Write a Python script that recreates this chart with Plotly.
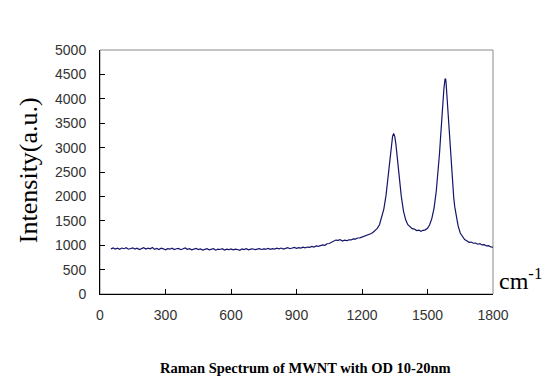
import plotly.graph_objects as go

# Raman shift (cm^-1)
wavenumber = [
    50, 60, 70, 80, 90, 100, 110, 120, 130, 140, 150, 160, 170, 180, 190, 200,
    210, 220, 230, 240, 250, 260, 270, 280, 290, 300, 310, 320, 330, 340, 350,
    360, 370, 380, 390, 400, 410, 420, 430, 440, 450, 460, 470, 480, 490, 500,
    510, 520, 530, 540, 550, 560, 570, 580, 590, 600, 610, 620, 630, 640, 650,
    660, 670, 680, 690, 700, 710, 720, 730, 740, 750, 760, 770, 780, 790, 800,
    810, 820, 830, 840, 850, 860, 870, 880, 890, 900, 910, 920, 930, 940, 950,
    960, 970, 980, 990, 1000, 1010, 1020, 1030, 1040, 1050, 1060, 1070, 1080,
    1090, 1100, 1110, 1120, 1130, 1140, 1150, 1160, 1170, 1180, 1190, 1200,
    1210, 1220, 1230, 1240, 1250, 1260, 1270, 1280, 1290, 1300, 1310, 1320,
    1330, 1335, 1340, 1345, 1350, 1355, 1360, 1365, 1370, 1380, 1390, 1400,
    1410, 1420, 1430, 1440, 1450, 1460, 1470, 1480, 1490, 1500, 1510, 1520,
    1530, 1540, 1545, 1550, 1555, 1560, 1565, 1570, 1575, 1580, 1583, 1585,
    1590, 1595, 1600, 1605, 1610, 1615, 1620, 1625, 1630, 1635, 1640, 1650,
    1660, 1670, 1680, 1690, 1700, 1710, 1720, 1730, 1740, 1750, 1760, 1770,
    1780, 1790, 1800,
]

# Intensity (a.u.)
intensity = [
    925, 945, 920, 938, 915, 942, 928, 950, 918, 935, 946, 922, 940, 912, 935, 948,
    920, 939, 925, 952, 915, 932, 910, 938, 926, 905, 930, 918, 940, 912, 928,
    935, 908, 925, 942, 915, 930, 905, 922, 936, 910, 925, 900, 918, 930, 906,
    915, 928, 898, 920, 912, 930, 902, 918, 908, 925, 905, 920, 912, 896, 922,
    910, 928, 905, 918, 926, 908, 920, 930, 912, 925, 918, 935, 915, 928, 920,
    938, 925, 942, 922, 935, 948, 928, 940, 955, 936, 950, 942, 960, 945, 962,
    955, 975, 962, 985, 978, 995, 1005, 998, 1030, 1035, 1058, 1072, 1105,
    1098, 1115, 1085, 1102, 1092, 1110, 1108, 1130, 1125, 1148, 1150, 1168,
    1172, 1190, 1208, 1235, 1262, 1300, 1345, 1420, 1560, 1740, 2020, 2420,
    2870, 3080, 3230, 3290, 3230, 3080, 2860, 2640, 2420, 2000, 1700, 1520,
    1420, 1375, 1340, 1330, 1300, 1310, 1285, 1305, 1315, 1345, 1420, 1550,
    1760, 2100, 2330, 2580, 2880, 3220, 3580, 3900, 4200, 4400, 4410, 4330,
    4000, 3600, 3150, 2800, 2500, 2200, 1980, 1780, 1620, 1490, 1400, 1250,
    1175, 1115, 1090, 1060, 1065, 1040, 1045, 1020, 1030, 1005, 1010, 985,
    990, 965, 958,
]

x_ticks = [0, 300, 600, 900, 1200, 1500, 1800]
y_ticks = [0, 500, 1000, 1500, 2000, 2500, 3000, 3500, 4000, 4500, 5000]

fig = go.Figure()
fig.add_trace(go.Scatter(
    x=wavenumber, y=intensity, mode="lines",
    line=dict(color="#14146b", width=1.2),
    showlegend=False, hoverinfo="skip",
))

tick_font = dict(family="Liberation Sans", size=14, color="#333333")

fig.update_xaxes(
    range=[0, 1800], tickvals=x_ticks, ticktext=[str(v) for v in x_ticks],
    showgrid=False, zeroline=False, showline=True, linecolor="#000000", linewidth=1,
    ticks="inside", ticklen=5, tickcolor="#000000", tickfont=tick_font,
    ticklabelstandoff=8,
)
fig.update_yaxes(
    range=[0, 5000], tickvals=y_ticks, ticktext=[str(v) for v in y_ticks],
    showgrid=False, zeroline=False, showline=True, linecolor="#000000", linewidth=1,
    ticks="inside", ticklen=5, tickcolor="#000000", tickfont=tick_font,
    ticklabelstandoff=10,
)

fig.add_shape(type="rect", xref="paper", yref="paper", x0=0, x1=1, y0=0, y1=1,
              line=dict(color="#8a8a8a", width=1), layer="below")

fig.add_annotation(
    text="Intensity(a.u.)", xref="paper", yref="paper", x=-0.183, y=0.508,
    textangle=-90, showarrow=False, xanchor="center", yanchor="middle",
    font=dict(family="Liberation Serif", size=26, color="#000000"),
)
fig.add_annotation(
    text="cm<sup>-1</sup>", xref="paper", yref="paper", x=1.010, y=0.06,
    showarrow=False, xanchor="left", yanchor="middle",
    font=dict(family="Liberation Serif", size=24, color="#000000"),
)
fig.add_annotation(
    text="<b>Raman Spectrum of MWNT with OD 10-20nm</b>", xref="paper", yref="paper",
    x=0.523, y=-0.303, showarrow=False, xanchor="center", yanchor="middle",
    font=dict(family="Liberation Serif", size=14.5, color="#000000"),
)

fig.update_layout(
    width=547, height=380,
    margin=dict(l=100, r=54, t=50, b=86),
    paper_bgcolor="#ffffff", plot_bgcolor="#ffffff",
)

fig.write_html("out.html", config={"displayModeBar": False},
               post_script="document.body.style.margin='0';")
